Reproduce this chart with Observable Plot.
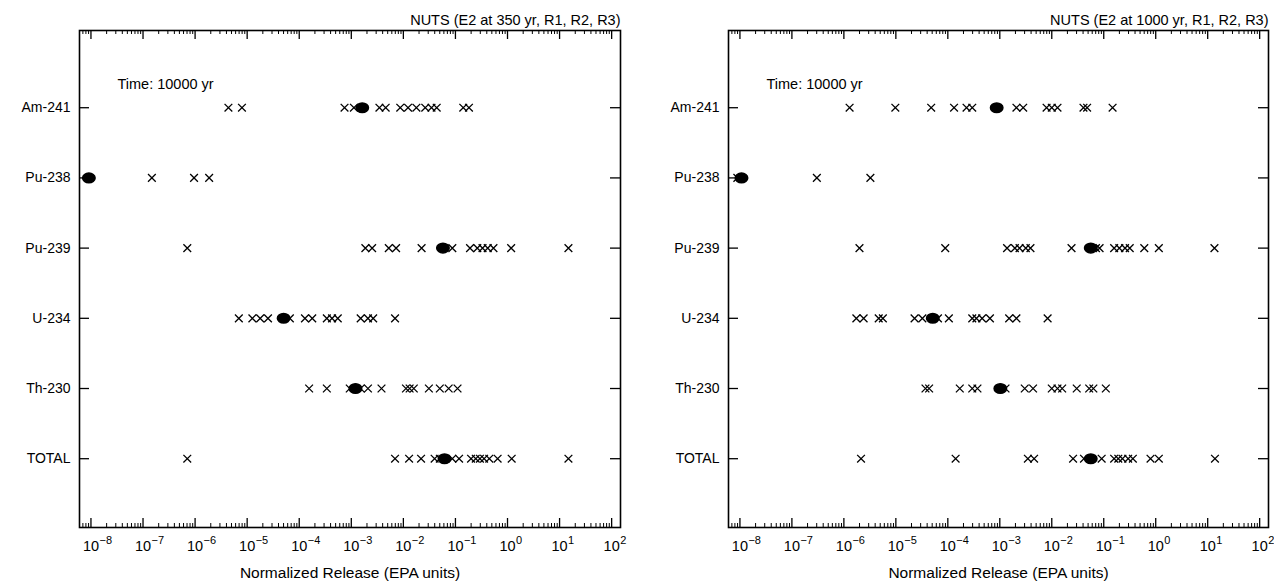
<!DOCTYPE html>
<html>
<head>
<meta charset="utf-8">
<script src="https://cdn.jsdelivr.net/npm/d3@7"></script>
<script src="https://cdn.jsdelivr.net/npm/@observablehq/plot@0.6"></script>
<style>
  html, body { margin: 0; padding: 0; background: #fff; }
  #wrap { display: flex; width: 1274px; height: 588px; }
</style>
</head>
<body>
<div id="wrap"></div>
<script>
// Categories (top to bottom)
const categories = ["Am-241", "Pu-238", "Pu-239", "U-234", "Th-230", "TOTAL"];

// Texts
const titleLeft = "NUTS (E2 at 350 yr, R1, R2, R3)";
const titleRight = "NUTS (E2 at 1000 yr, R1, R2, R3)";
const timeLabel = "Time: 10000 yr";
const xLabel = "Normalized Release (EPA units)";

// Decade exponents for x tick labels
const decadeExps = [-8, -7, -6, -5, -4, -3, -2, -1, 0, 1, 2];

// Values are log10 of normalized release (EPA units)
// Left panel (E2 at 350 yr): individual realizations (crosses)
const L_Am241 = [-5.36, -5.10, -3.13, -2.95, -2.46, -2.34, -2.06, -1.91, -1.75, -1.58, -1.46, -1.36, -0.85, -0.74];
const L_Pu238 = [-6.83, -6.02, -5.73];
const L_Pu239 = [-6.15, -2.73, -2.60, -2.28, -2.14, -1.65, -1.06, -0.72, -0.58, -0.48, -0.38, -0.27, 0.07, 1.17];
const L_U234  = [-5.16, -4.90, -4.75, -4.60, -4.18, -3.89, -3.75, -3.47, -3.37, -3.26, -2.82, -2.68, -2.58, -2.16];
const L_Th230 = [-3.81, -3.47, -3.03, -2.82, -2.68, -2.42, -1.95, -1.88, -1.80, -1.51, -1.30, -1.13, -0.96];
const L_TOTAL = [-6.15, -2.16, -1.89, -1.66, -1.40, -1.30, -1.06, -0.93, -0.70, -0.61, -0.53, -0.45, -0.35, -0.19, 0.08, 1.17];
// Left panel means (filled dots)
const L_mean = [-2.79, -8.04, -1.24, -4.30, -2.92, -1.21];

// Right panel (E2 at 1000 yr)
const R_Am241 = [-5.89, -5.01, -4.32, -3.88, -3.64, -3.53, -2.68, -2.55, -2.10, -2.00, -1.89, -1.39, -1.32, -0.83];
const R_Pu238 = [-8.05, -6.52, -5.49];
const R_Pu239 = [-5.70, -4.05, -2.86, -2.71, -2.62, -2.50, -2.41, -1.62, -1.15, -1.08, -0.80, -0.70, -0.59, -0.50, -0.22, 0.06, 1.13];
const R_U234  = [-5.76, -5.62, -5.33, -5.25, -4.64, -4.49, -4.19, -3.98, -3.53, -3.45, -3.34, -3.19, -2.82, -2.68, -2.08];
const R_Th230 = [-4.43, -4.36, -3.77, -3.53, -3.43, -2.89, -2.52, -2.36, -2.00, -1.89, -1.80, -1.52, -1.28, -1.20, -0.96];
const R_TOTAL = [-5.67, -3.85, -2.46, -2.34, -1.59, -1.38, -1.04, -0.80, -0.72, -0.64, -0.53, -0.44, -0.10, 0.06, 1.14];
// Right panel means
const R_mean = [-3.06, -7.97, -1.25, -4.29, -2.99, -1.25];

const leftRows = [L_Am241, L_Pu238, L_Pu239, L_U234, L_Th230, L_TOTAL];
const rightRows = [R_Am241, R_Pu238, R_Pu239, R_U234, R_Th230, R_TOTAL];

const decades = decadeExps.map(e => 10 ** e);
const minors = [7e-9, 8e-9, 9e-9];
for (const e of decadeExps.slice(0, -1)) for (let m = 2; m <= 9; m++) minors.push(m * 10 ** e);
const expText = d => String(Math.round(Math.log10(d))).replace("-", "\u2212");

const ellipse = {
  draw(ctx, size) {
    const r = Math.sqrt(size / Math.PI);
    const rx = r * 1.3, ry = r, k = 0.5523;
    ctx.moveTo(rx, 0);
    ctx.bezierCurveTo(rx, ry * k, rx * k, ry, 0, ry);
    ctx.bezierCurveTo(-rx * k, ry, -rx, ry * k, -rx, 0);
    ctx.bezierCurveTo(-rx, -ry * k, -rx * k, -ry, 0, -ry);
    ctx.bezierCurveTo(rx * k, -ry, rx, -ry * k, rx, 0);
    ctx.closePath();
  }
};

function panel(rows, means, title, ml, mr) {
  const W = 637, H = 588, mt = 30, mb = 61;
  const fw = W - ml - mr, fh = H - mt - mb;
  const crosses = rows.flatMap((arr, i) => arr.map(v => ({cat: i, val: 10 ** v})));
  const dots = means.map((v, i) => ({cat: i, val: 10 ** v}));
  const idx = categories.map((_, i) => i);
  return Plot.plot({
    width: W, height: H,
    marginLeft: ml, marginRight: mr, marginTop: mt, marginBottom: mb,
    style: {fontFamily: "'Liberation Sans', Arial, Helvetica, sans-serif", fontSize: "14px", color: "#000", background: "#fff", overflow: "visible"},
    x: {type: "log", domain: [10 ** -8.22, 10 ** 2.17], axis: null},
    y: {type: "linear", domain: [-1.1, 5.98], reverse: true, axis: null},
    marks: [
      // minor ticks bottom & top
      Plot.tickX(minors, {x: d => d, insetTop: fh - 4, stroke: "#000", strokeWidth: 1}),
      Plot.tickX(minors, {x: d => d, insetBottom: fh - 4, stroke: "#000", strokeWidth: 1}),
      // major ticks
      Plot.tickX(decades, {x: d => d, insetTop: fh - 9, stroke: "#000", strokeWidth: 1.3}),
      Plot.tickX(decades, {x: d => d, insetBottom: fh - 9, stroke: "#000", strokeWidth: 1.3}),
      // y ticks left & right
      Plot.tickY(idx, {y: d => d, insetRight: fw - 10, stroke: "#000", strokeWidth: 1.3}),
      Plot.tickY(idx, {y: d => d, insetLeft: fw - 10, stroke: "#000", strokeWidth: 1.3}),
      // x tick labels: base "10" and superscript exponent
      Plot.text(decades, {x: d => d, frameAnchor: "bottom", text: () => "10", dy: 23, fontSize: 14.5, textAnchor: "middle"}),
      Plot.text(decades, {x: d => d, frameAnchor: "bottom", text: expText, dy: 16, dx: 8.5, fontSize: 11, textAnchor: "start"}),
      Plot.axisY({ticks: idx, tickSize: 0, tickPadding: 9, tickFormat: i => categories[i], fontSize: 14, label: null}),
      Plot.frame({stroke: "#000", strokeWidth: 1.6}),
      Plot.dot(crosses, {x: "val", y: "cat", symbol: "times", r: 3.6, stroke: "#000", strokeWidth: 1.3}),
      Plot.dot(dots, {x: "val", y: "cat", symbol: ellipse, r: 4.8, fill: "#000", stroke: "#000"}),
      Plot.text([title], {frameAnchor: "top-right", dy: -16, textAnchor: "end", fontSize: 14.5}),
      Plot.text([timeLabel], {frameAnchor: "top-left", dx: 38, dy: 48, textAnchor: "start", fontSize: 14.5}),
      Plot.text([xLabel], {frameAnchor: "bottom", dy: 50, fontSize: 15.5})
    ]
  });
}

const wrap = document.getElementById("wrap");
wrap.append(panel(leftRows, L_mean, titleLeft, 79, 17));
wrap.append(panel(rightRows, R_mean, titleRight, 91, 6));
</script>
</body>
</html>
